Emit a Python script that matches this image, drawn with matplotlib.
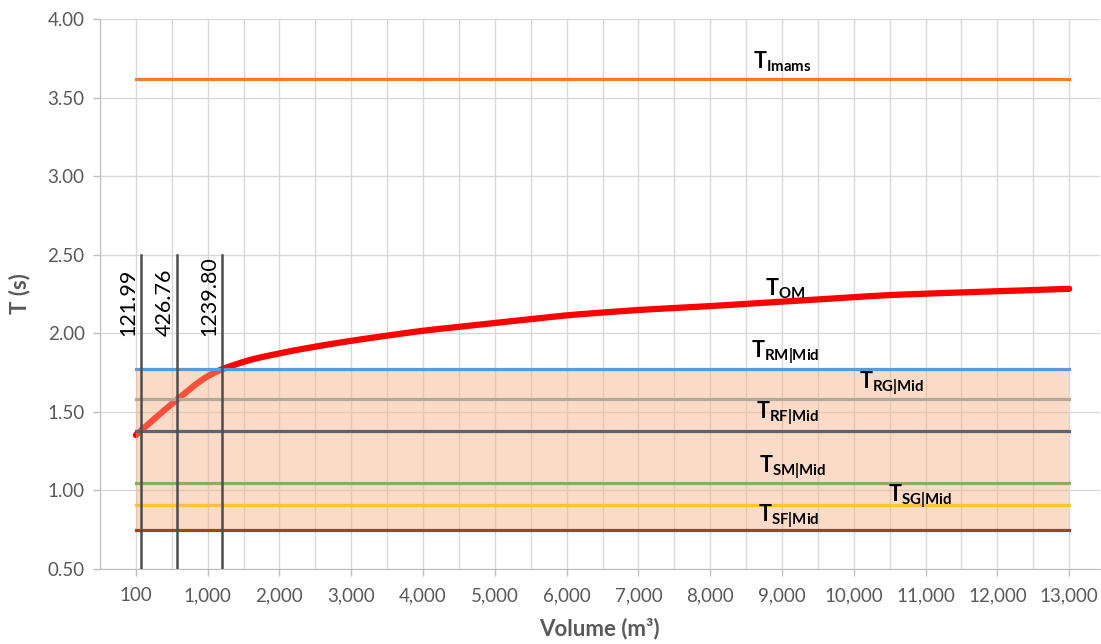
import matplotlib
matplotlib.use("Agg")
import matplotlib.pyplot as plt
import numpy as np

plt.rcParams['font.family'] = ['Lato', 'DejaVu Sans']
plt.rcParams['mathtext.fontset'] = 'custom'
plt.rcParams['mathtext.rm'] = 'Lato'
plt.rcParams['mathtext.bf'] = 'Lato:bold'

# volume categories (m3), one every 500
volumes = [100] + list(range(500, 13001, 500))

# T_OM period curve
t_om = [1.352, 1.550, 1.726, 1.818, 1.872, 1.915, 1.952, 1.985, 2.016,
        2.041, 2.065, 2.090, 2.114, 2.132, 2.148, 2.161, 2.173, 2.187,
        2.201, 2.215, 2.230, 2.243, 2.252, 2.260, 2.268, 2.275, 2.283]

# constant reference periods
t_imams = 3.62
t_rm = 1.77
t_rg = 1.58
t_rf = 1.38
t_sm = 1.05
t_sg = 0.91
t_sf = 0.75

# volumes where T_OM reaches T_RF, T_RG, T_RM
cross_vol = [121.99, 426.76, 1239.80]
cross_level = [t_rf, t_rg, t_rm]


def smooth(x, y, n=20):
    # Catmull-Rom through the points, like a smoothed line in a spreadsheet
    x = np.asarray(x, float)
    y = np.asarray(y, float)
    px = np.concatenate([[2 * x[0] - x[1]], x, [2 * x[-1] - x[-2]]])
    py = np.concatenate([[2 * y[0] - y[1]], y, [2 * y[-1] - y[-2]]])
    xs, ys = [], []
    t = np.linspace(0, 1, n, endpoint=False)
    for i in range(1, len(px) - 2):
        for p, out in ((px, xs), (py, ys)):
            p0, p1, p2, p3 = p[i - 1], p[i], p[i + 1], p[i + 2]
            out.extend(0.5 * (2 * p1 + (-p0 + p2) * t
                              + (2 * p0 - 5 * p1 + 4 * p2 - p3) * t ** 2
                              + (-p0 + 3 * p1 - 3 * p2 + p3) * t ** 3))
    xs.append(x[-1])
    ys.append(y[-1])
    return np.array(xs), np.array(ys)


idx = np.arange(len(volumes))

fig = plt.figure(figsize=(11.01, 6.44), dpi=100)
ax = fig.add_axes([0.0908, 0.1165, 0.908, 0.854])

grey = '#595959'
axis_grey = '#BFBFBF'

sx, sy = smooth(idx, t_om)
ax.plot(sx, sy, color='#FF0000', lw=4.5, solid_capstyle='round', zorder=3)

# design band between T_SF and T_RM
ax.fill_between(idx, t_sf, t_rm, color='#F4B183', alpha=0.45, lw=0, zorder=4)

levels = [
    (t_imams, '#ED7D31', r'$\mathbf{T_{Imams}}$', 18.0, 3.73),
    (t_rm, '#5B9BD5', r'$\mathbf{T_{RM|Mid}}$', 18.1, 1.88),
    (t_rg, '#B5A89B', r'$\mathbf{T_{RG|Mid}}$', 21.05, 1.68),
    (t_rf, '#5F6272', r'$\mathbf{T_{RF|Mid}}$', 18.15, 1.49),
    (t_sm, '#8FAB5E', r'$\mathbf{T_{SM|Mid}}$', 18.3, 1.15),
    (t_sg, '#F9C13D', r'$\mathbf{T_{SG|Mid}}$', 21.85, 0.965),
    (t_sf, '#A0451A', r'$\mathbf{T_{SF|Mid}}$', 18.2, 0.835),
]
for val, col, lab, lx, ly in levels:
    ax.plot([idx[0], idx[-1]], [val, val], color=col, lw=2.3, zorder=5)
    ax.text(lx, ly, lab, fontsize=15.5, ha='center', va='center', color='black', zorder=6)
ax.text(18.1, 2.285, r'$\mathbf{T_{OM}}$', fontsize=15.5, ha='center', va='center', color='black', zorder=6)

# vertical markers at the crossing volumes
for vol, lvl in zip(cross_vol, cross_level):
    xc = np.interp(lvl, sy, sx)
    ax.plot([xc, xc], [0.5, 2.5], color='#4D4D4D', lw=1.8, zorder=6)
    ax.annotate(f'{vol:.2f}', xy=(xc, 1.98), xytext=(-2, 0), textcoords='offset points',
                rotation=90, ha='right', va='bottom', fontsize=15.5, color='black')

ax.set_xlim(-1, 26.85)
ax.set_ylim(0.5, 4.0)
ax.set_yticks(np.arange(0.5, 4.01, 0.5))
ax.set_yticklabels([f'{v:.2f}' for v in np.arange(0.5, 4.01, 0.5)])
ax.set_xticks(idx[::2])
ax.set_xticklabels([f'{v:,}' for v in volumes[::2]])
ax.set_xticks(np.arange(-1, 27), minor=True)
ax.tick_params(axis='x', which='minor', length=0)
ax.tick_params(axis='both', which='major', labelsize=13.5, labelcolor=grey,
               color=axis_grey, length=5, width=1)
ax.tick_params(axis='x', pad=8)
ax.tick_params(axis='y', pad=6)
ax.grid(True, which='both', color='#D9D9D9', lw=1)
ax.set_axisbelow(True)
for side in ['top', 'right']:
    ax.spines[side].set_visible(False)
for side in ['left', 'bottom']:
    ax.spines[side].set_color(axis_grey)

ax.set_ylabel('T (s)', fontsize=16, fontweight='bold', color=grey, labelpad=12)
ax.set_xlabel('Volume (m³)', fontsize=16, fontweight='bold', color=grey, labelpad=10)

fig.savefig('out.png', dpi=100)
